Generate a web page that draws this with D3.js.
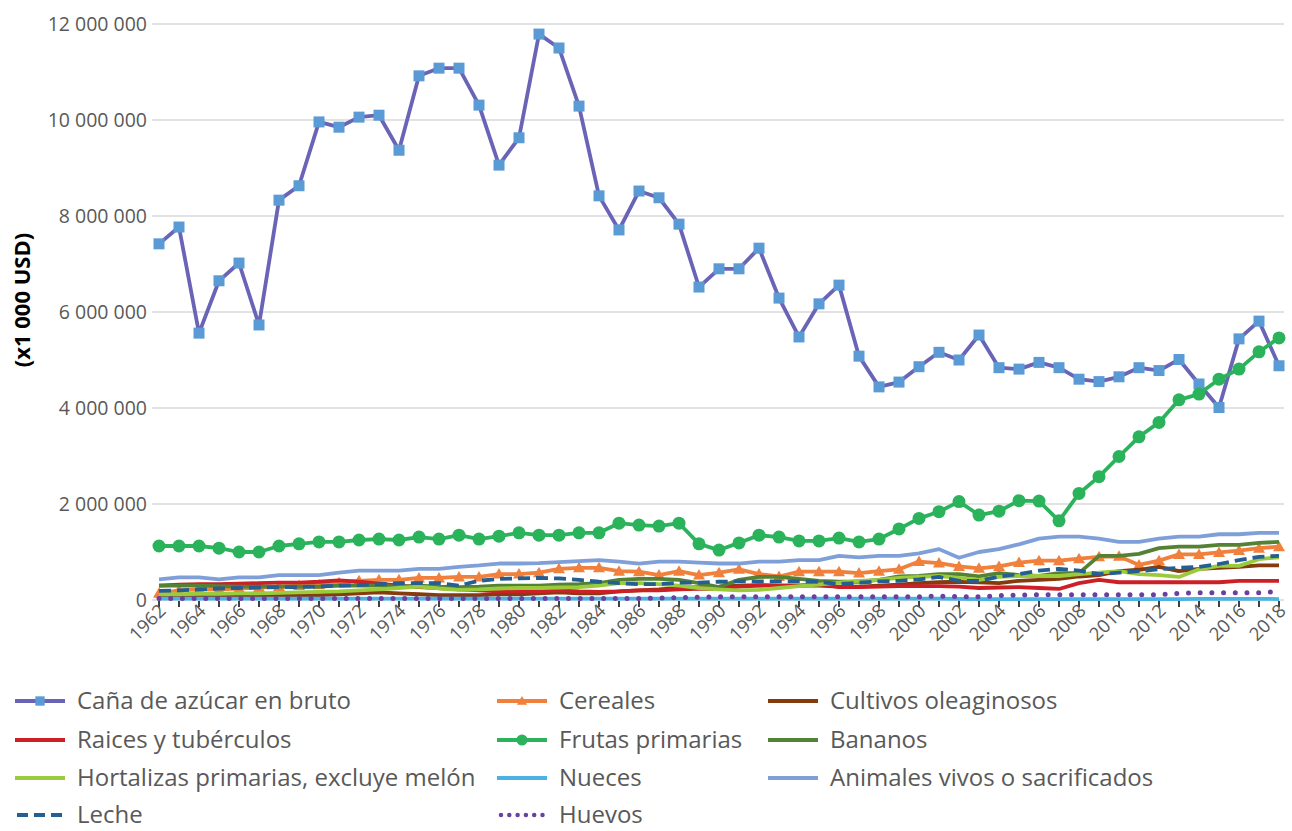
<!DOCTYPE html>
<html><head><meta charset="utf-8">
<script src="https://cdn.jsdelivr.net/npm/d3@7"></script>
<style>
body{margin:0;background:#fff;}
svg text{font-family:"Open Sans",sans-serif;}
</style></head>
<body><svg id="c" width="1292" height="831"></svg>
<script>
const years = d3.range(1962, 2019);
const yTicks = [0, 2000000, 4000000, 6000000, 8000000, 10000000, 12000000];
const xLabelYears = d3.range(1962, 2019, 2);

// values in millions of (x1 000 USD)
const cana = [7.42,7.77,5.56,6.65,7.02,5.73,8.33,8.63,9.96,9.85,10.06,10.1,9.37,10.92,11.08,11.08,10.31,9.06,9.63,11.79,11.5,10.29,8.42,7.71,8.52,8.38,7.83,6.52,6.9,6.9,7.33,6.29,5.48,6.17,6.56,5.08,4.44,4.54,4.86,5.16,5.0,5.52,4.84,4.81,4.95,4.84,4.6,4.55,4.65,4.84,4.78,5.01,4.5,4.01,5.44,5.81,4.88];
const cereales = [0.14,0.2,0.22,0.22,0.24,0.26,0.28,0.3,0.32,0.36,0.4,0.42,0.42,0.46,0.46,0.48,0.48,0.54,0.54,0.57,0.65,0.67,0.67,0.6,0.59,0.52,0.6,0.52,0.57,0.64,0.54,0.49,0.59,0.59,0.59,0.56,0.6,0.64,0.8,0.77,0.7,0.66,0.7,0.78,0.82,0.82,0.86,0.9,0.91,0.73,0.82,0.95,0.95,0.99,1.03,1.08,1.11];
const oleaginosos = [0.08,0.08,0.08,0.08,0.09,0.09,0.1,0.1,0.1,0.12,0.14,0.16,0.14,0.12,0.1,0.1,0.1,0.12,0.12,0.14,0.16,0.14,0.14,0.18,0.2,0.22,0.25,0.27,0.28,0.3,0.31,0.3,0.3,0.3,0.28,0.28,0.3,0.32,0.35,0.37,0.38,0.37,0.35,0.4,0.42,0.44,0.49,0.52,0.6,0.63,0.69,0.6,0.65,0.67,0.69,0.72,0.72];
const raices = [0.3,0.32,0.33,0.33,0.34,0.35,0.36,0.36,0.38,0.41,0.38,0.34,0.3,0.27,0.25,0.22,0.2,0.18,0.18,0.18,0.2,0.18,0.17,0.18,0.2,0.2,0.22,0.23,0.23,0.28,0.3,0.3,0.3,0.33,0.27,0.27,0.28,0.29,0.29,0.29,0.28,0.25,0.26,0.27,0.25,0.23,0.35,0.42,0.37,0.37,0.37,0.37,0.37,0.37,0.4,0.4,0.4];
const frutas = [1.125,1.125,1.125,1.08,1.0,1.0,1.125,1.17,1.21,1.21,1.25,1.27,1.25,1.31,1.27,1.35,1.27,1.33,1.4,1.35,1.35,1.4,1.4,1.6,1.56,1.54,1.6,1.17,1.04,1.19,1.35,1.31,1.23,1.23,1.29,1.21,1.27,1.48,1.7,1.84,2.05,1.77,1.85,2.07,2.06,1.65,2.22,2.57,2.99,3.4,3.7,4.17,4.29,4.6,4.81,5.17,5.46];
const bananos = [0.3,0.3,0.3,0.29,0.28,0.28,0.28,0.28,0.28,0.3,0.3,0.3,0.28,0.3,0.28,0.27,0.28,0.3,0.3,0.3,0.32,0.33,0.35,0.42,0.44,0.44,0.42,0.35,0.27,0.42,0.48,0.48,0.44,0.4,0.38,0.38,0.42,0.49,0.5,0.54,0.54,0.49,0.56,0.52,0.5,0.56,0.56,0.92,0.92,0.96,1.08,1.11,1.11,1.15,1.15,1.19,1.21];
const hortalizas = [0.12,0.12,0.13,0.13,0.14,0.14,0.15,0.16,0.17,0.18,0.2,0.22,0.25,0.28,0.24,0.21,0.22,0.24,0.25,0.25,0.26,0.27,0.3,0.35,0.35,0.33,0.3,0.25,0.22,0.2,0.21,0.25,0.29,0.32,0.36,0.4,0.42,0.46,0.48,0.5,0.46,0.42,0.48,0.5,0.5,0.5,0.54,0.57,0.6,0.54,0.52,0.48,0.64,0.71,0.71,0.85,0.89];
const nueces = [0.03,0.03,0.03,0.03,0.03,0.03,0.03,0.03,0.03,0.03,0.03,0.03,0.03,0.03,0.03,0.03,0.03,0.03,0.03,0.03,0.03,0.03,0.03,0.03,0.03,0.03,0.03,0.03,0.03,0.03,0.03,0.03,0.03,0.03,0.03,0.03,0.03,0.03,0.03,0.03,0.025,0.02,0.02,0.02,0.02,0.02,0.02,0.02,0.02,0.02,0.02,0.02,0.025,0.025,0.025,0.025,0.02];
const animales = [0.43,0.47,0.47,0.43,0.47,0.47,0.52,0.52,0.52,0.57,0.61,0.61,0.61,0.65,0.65,0.69,0.72,0.76,0.76,0.77,0.79,0.81,0.83,0.8,0.76,0.8,0.8,0.78,0.76,0.76,0.8,0.8,0.83,0.83,0.92,0.89,0.92,0.92,0.97,1.06,0.88,1.0,1.06,1.16,1.28,1.32,1.32,1.28,1.21,1.21,1.28,1.32,1.32,1.37,1.37,1.4,1.4];
const leche = [0.19,0.2,0.22,0.24,0.25,0.26,0.27,0.27,0.28,0.3,0.31,0.33,0.35,0.35,0.35,0.3,0.4,0.44,0.45,0.46,0.45,0.42,0.38,0.35,0.33,0.33,0.36,0.36,0.38,0.39,0.39,0.39,0.39,0.38,0.33,0.36,0.39,0.4,0.43,0.48,0.4,0.4,0.49,0.54,0.61,0.65,0.61,0.54,0.57,0.6,0.64,0.67,0.69,0.75,0.83,0.9,0.92];
const huevos = [0.03,0.03,0.03,0.03,0.03,0.03,0.03,0.03,0.03,0.03,0.03,0.03,0.03,0.03,0.03,0.03,0.03,0.03,0.03,0.03,0.03,0.03,0.03,0.03,0.03,0.04,0.05,0.06,0.07,0.07,0.07,0.07,0.07,0.07,0.07,0.07,0.07,0.07,0.07,0.08,0.07,0.07,0.09,0.1,0.11,0.11,0.11,0.11,0.11,0.11,0.11,0.14,0.15,0.15,0.15,0.15,0.18];

const series = [
  {name:"Caña de azúcar en bruto", values:cana, color:"#6a64b6", marker:"square", mcolor:"#5b9bd5"},
  {name:"Cereales", values:cereales, color:"#f0803b", marker:"triangle", mcolor:"#f0803b"},
  {name:"Cultivos oleaginosos", values:oleaginosos, color:"#843c0c"},
  {name:"Raices y tubérculos", values:raices, color:"#cc1f26"},
  {name:"Frutas primarias", values:frutas, color:"#2bb35c", marker:"circle", mcolor:"#2bb35c"},
  {name:"Bananos", values:bananos, color:"#548235"},
  {name:"Hortalizas primarias, excluye melón", values:hortalizas, color:"#9acb3c"},
  {name:"Nueces", values:nueces, color:"#4cb2e4"},
  {name:"Animales vivos o sacrificados", values:animales, color:"#7f9fd8"},
  {name:"Leche", values:leche, color:"#255e91", dash:"12,6"},
  {name:"Huevos", values:huevos, color:"#6b3fa0", dot:true}
];

const svg = d3.select("#c");
const x = d3.scaleLinear().domain([1962, 2018]).range([159, 1279]);
const y = d3.scaleLinear().domain([0, 12000000]).range([600, 24]);
const fmt = v => d3.format(",")(v).replace(/,/g, " ");

svg.append("g").selectAll("line").data(yTicks).join("line")
  .attr("x1", 152).attr("x2", 1284)
  .attr("y1", d => y(d)).attr("y2", d => y(d))
  .attr("stroke", "#d9d9d9").attr("stroke-width", 1.5);

svg.append("g").selectAll("text").data(yTicks).join("text")
  .attr("x", 147).attr("y", d => y(d)).attr("dy", "0.35em")
  .attr("text-anchor", "end").attr("font-size", 19.5).attr("fill", "#595959")
  .text(d => fmt(d));

svg.append("text").attr("transform", "translate(30,300) rotate(-90)")
  .attr("text-anchor", "middle").attr("font-size", 22).attr("font-weight", "bold")
  .attr("fill", "#000").text("(x1 000 USD)");

svg.append("g").selectAll("line").data(years).join("line")
  .attr("x1", d => x(d)).attr("x2", d => x(d)).attr("y1", 601).attr("y2", 607)
  .attr("stroke", "#000").attr("stroke-width", 1.5);

svg.append("g").selectAll("text").data(xLabelYears).join("text")
  .attr("transform", d => `translate(${x(d) + 8},${612}) rotate(-45)`)
  .attr("text-anchor", "end").attr("font-size", 18.5).attr("fill", "#595959")
  .text(d => d);

const line = d3.line().x((d, i) => x(years[i])).y(d => y(d * 1000000));

const plot = svg.append("g");
series.forEach(s => {
  const p = plot.append("path").attr("d", line(s.values)).attr("fill", "none")
    .attr("stroke", s.color).attr("stroke-width", s.dot ? 5 : 3.8)
    .attr("stroke-linejoin", "round");
  if (s.dash) p.attr("stroke-dasharray", s.dash);
  if (s.dot) p.attr("stroke-dasharray", "0,11.7").attr("stroke-linecap", "round");
  if (s.marker) {
    const g = plot.append("g");
    s.values.forEach((v, i) => drawMarker(g, s, x(years[i]), y(v * 1000000), 1));
  }
});

function drawMarker(g, s, cx, cy, k) {
  if (s.marker === "square") {
    const h = 5.5 * k;
    g.append("rect").attr("x", cx - h).attr("y", cy - h).attr("width", 2*h).attr("height", 2*h).attr("fill", s.mcolor);
  } else if (s.marker === "circle") {
    g.append("circle").attr("cx", cx).attr("cy", cy).attr("r", 6.5 * k).attr("fill", s.mcolor);
  } else if (s.marker === "triangle") {
    const r = 6 * k;
    g.append("path").attr("d", `M${cx},${cy - r}L${cx + r},${cy + r*0.75}L${cx - r},${cy + r*0.75}Z`).attr("fill", s.mcolor);
  }
}

const colX = [15, 497, 768];
const rowY = [701, 740, 778, 815];
series.forEach((s, i) => {
  const cx = colX[i % 3], cy = rowY[Math.floor(i / 3)];
  const g = svg.append("g");
  const l = g.append("line").attr("x1", cx).attr("x2", cx + 50).attr("y1", cy).attr("y2", cy)
    .attr("stroke", s.color).attr("stroke-width", s.dot ? 4.5 : 3.8);
  if (s.dash) l.attr("stroke-dasharray", "11,6").attr("x1", cx + 2);
  if (s.dot) l.attr("stroke-dasharray", "0,8.3").attr("stroke-linecap", "round").attr("x1", cx + 4).attr("x2", cx + 48);
  if (s.marker) drawMarker(g, s, cx + 25, cy, 0.85);
  g.append("text").attr("x", cx + 62).attr("y", cy).attr("dy", "0.35em")
    .attr("font-size", 24).attr("fill", "#595959").text(s.name);
});
</script></body></html>
